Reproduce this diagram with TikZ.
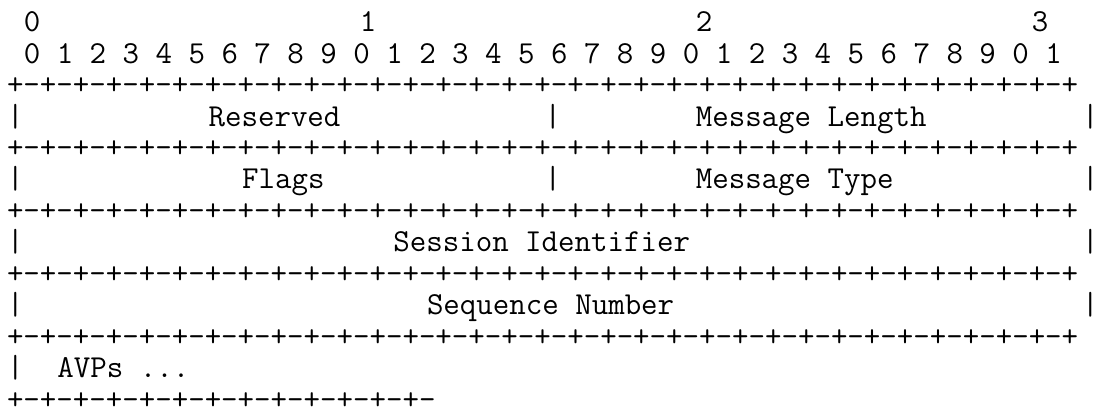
\documentclass[tikz,border=0pt]{standalone}
\usepackage{fontspec}
\usepackage{tikz}
\tikzset{asc/.style={anchor=base west, inner sep=0pt, font=\ttfamily\fontsize{16pt}{18pt}\selectfont}}

\begin{document}
\begin{tikzpicture}[x=8.4pt, y=-15.735pt]
\useasboundingbox (0pt,0pt) rectangle (550.5pt,-206pt);
\begin{scope}[shift={(3.3pt,-15.8pt)}]
% bit numbers
\node[asc] (d0) at (1,0) {0};
\node[asc] (d1) at (21,0) {1};
\node[asc] (d2) at (41,0) {2};
\node[asc] (d3) at (61,0) {3};
\node[asc] (bits) at (1,1) {0 1 2 3 4 5 6 7 8 9 0 1 2 3 4 5 6 7 8 9 0 1 2 3 4 5 6 7 8 9 0 1};
% separator lines
\foreach \r in {2,4,...,10}
  \node[asc] (sep\r) at (0,\r) {+-+-+-+-+-+-+-+-+-+-+-+-+-+-+-+-+-+-+-+-+-+-+-+-+-+-+-+-+-+-+-+-+};
\node[asc] (tail) at (0,12) {+-+-+-+-+-+-+-+-+-+-+-+-+-};
% field borders
\foreach \r/\c in {3/0,3/32,3/64,5/0,5/32,5/64,7/0,7/64,9/0,9/64,11/0}
  \node[asc] (bar\r-\c) at (\c,\r) {|};
% fields
\node[asc] (rsvd) at (12,3) {Reserved};
\node[asc] (mlen) at (41,3) {Message Length};
\node[asc] (flags) at (14,5) {Flags};
\node[asc] (mtype) at (41,5) {Message Type};
\node[asc] (sid) at (23,7) {Session Identifier};
\node[asc] (seq) at (25,9) {Sequence Number};
\node[asc] (avps) at (3,11) {AVPs ...};
\end{scope}
\end{tikzpicture}
\end{document}
